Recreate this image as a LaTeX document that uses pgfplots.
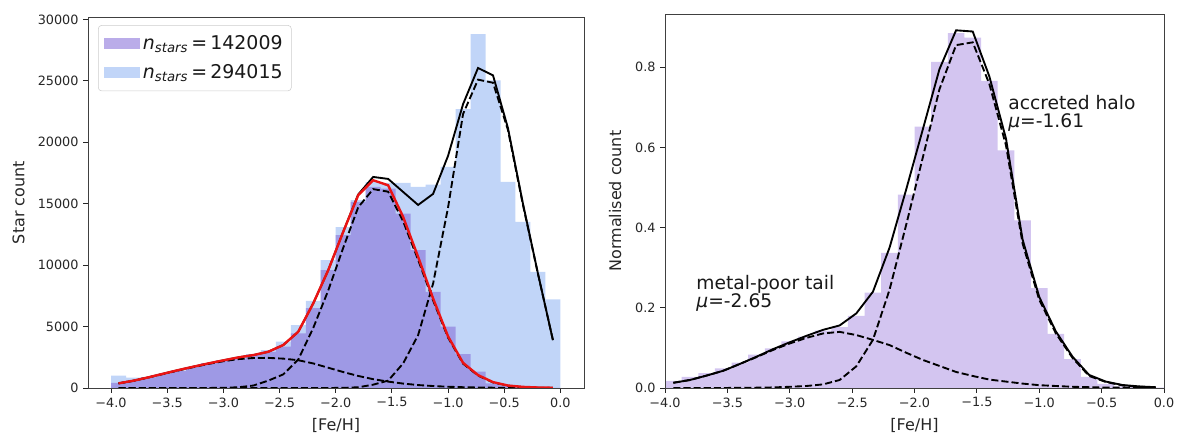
\documentclass[border=0pt]{standalone}
\usepackage{fontspec}
\setmainfont{DejaVu Sans}[ItalicFont={DejaVu Sans Oblique}]
\usepackage{pgfplots}
\usepackage{pgfplotstable}
\pgfplotsset{compat=1.18}

\definecolor{lbfill}{RGB}{193,213,248}
\definecolor{pfill}{RGB}{130,105,215}
\definecolor{rfill}{RGB}{211,197,240}
\definecolor{legedge}{RGB}{204,204,204}
\definecolor{fitred}{RGB}{235,20,20}

% histograms, left panel: bin left edge, full sample, subsample (last row closes the final bin)
\pgfplotstableread{
edge lb p
-4.0000 1000 420
-3.8667 850 600
-3.7333 880 860
-3.6000 1150 1130
-3.4667 1420 1400
-3.3333 1720 1690
-3.2000 2000 2000
-3.0667 2200 2250
-2.9333 2450 2400
-2.8000 2760 2700
-2.6667 3090 2950
-2.5333 3770 3360
-2.4000 5120 4450
-2.2667 7100 6500
-2.1333 10400 9590
-2.0000 13100 12440
-1.8667 15300 15150
-1.7333 16750 16370
-1.6000 16700 16230
-1.4667 16690 14200
-1.3333 16370 11220
-1.2000 16560 7830
-1.0667 18000 5000
-0.9333 22700 2750
-0.8000 28800 1330
-0.6667 25040 380
-0.5333 16770 150
-0.4000 13520 60
-0.2667 9460 20
-0.1333 7210 10
0.0000 7210 10
}\histleft

% fitted curves, left panel, at bin centres
\pgfplotstableread{
c red bsol dtail dmain drich
-3.9333 380 380 375 0 0
-3.8000 595 595 585 0 0
-3.6667 870 870 855 0 0
-3.5333 1165 1165 1145 0 0
-3.4000 1460 1460 1430 0 0
-3.2667 1735 1735 1700 0 0
-3.1333 2000 2000 1960 3 0
-3.0000 2250 2250 2180 15 0
-2.8667 2490 2490 2350 60 0
-2.7333 2680 2680 2440 200 0
-2.6000 2950 2950 2450 600 0
-2.4667 3500 3500 2390 1110 0
-2.3333 4580 4580 2260 2320 0
-2.2000 6890 6890 2000 4890 0
-2.0667 9590 9590 1650 7940 2
-1.9333 12710 12720 1300 11410 10
-1.8000 15690 15750 980 14710 60
-1.6667 16910 17180 720 16190 270
-1.5333 16500 17020 520 15980 600
-1.4000 13930 15960 360 13570 2000
-1.2667 10680 14900 240 10440 4300
-1.1333 7290 15800 160 7130 8500
-1.0000 4200 18900 100 4100 14700
-0.8667 2050 23100 65 1985 22300
-0.7333 1050 26050 40 1010 25100
-0.6000 480 25450 25 455 24850
-0.4667 200 21150 15 185 21000
-0.3333 90 15000 8 72 14900
-0.2000 40 9320 4 26 9300
-0.0667 20 3900 2 8 3900
}\fitleft

% normalised histogram, right panel
\pgfplotstableread{
edge v
-4.0000 0.018
-3.8667 0.028
-3.7333 0.037
-3.6000 0.049
-3.4667 0.063
-3.3333 0.083
-3.2000 0.099
-3.0667 0.116
-2.9333 0.128
-2.8000 0.143
-2.6667 0.152
-2.5333 0.180
-2.4000 0.238
-2.2667 0.337
-2.1333 0.4825
-2.0000 0.652
-1.8667 0.813
-1.7333 0.885
-1.6000 0.874
-1.4667 0.766
-1.3333 0.5925
-1.2000 0.418
-1.0667 0.249
-0.9333 0.135
-0.8000 0.072
-0.6667 0.028
-0.5333 0.010
-0.4000 0.004
-0.2667 0.002
-0.1333 0.001
0.0000 0.001
}\histright

% two-component fit, right panel
\pgfplotstableread{
c sol tail main
-3.9333 0.013 0.013 0.0000
-3.8000 0.020 0.020 0.0000
-3.6667 0.031 0.031 0.0000
-3.5333 0.043 0.043 0.0001
-3.4000 0.060 0.060 0.0003
-3.2667 0.078 0.077 0.0008
-3.1333 0.097 0.095 0.0015
-3.0000 0.114 0.111 0.003
-2.8667 0.130 0.125 0.005
-2.7333 0.145 0.136 0.009
-2.6000 0.156 0.140 0.020
-2.4667 0.186 0.132 0.054
-2.3333 0.240 0.120 0.120
-2.2000 0.350 0.107 0.245
-2.0667 0.495 0.088 0.407
-1.9333 0.645 0.070 0.575
-1.8000 0.795 0.055 0.745
-1.6667 0.892 0.040 0.855
-1.5333 0.889 0.030 0.862
-1.4000 0.777 0.021 0.758
-1.2667 0.622 0.016 0.605
-1.1333 0.370 0.011 0.360
-1.0000 0.227 0.007 0.220
-0.8667 0.141 0.005 0.136
-0.7333 0.078 0.003 0.075
-0.6000 0.0325 0.002 0.030
-0.4667 0.016 0.001 0.015
-0.3333 0.0075 0.001 0.0065
-0.2000 0.004 0.0005 0.003
-0.0667 0.002 0.0003 0.0015
}\fitright

\pgfplotsset{
  panel/.style={
    scale only axis, anchor=south west, axis on top,
    tick align=outside, xtick pos=bottom, ytick pos=left,
    major tick length=3.6pt,
    every tick/.style={black!85, line width=0.6pt},
    axis line style={black!75, line width=0.6pt},
    tick label style={font=\fontsize{9.6}{11}\selectfont, text=black!85},
    label style={font=\fontsize{12}{14}\selectfont, text=black!85},
    scaled ticks=false,
    xtick={-4,-3.5,-3,-2.5,-2,-1.5,-1,-0.5,0},
    xticklabels={−4.0,−3.5,−3.0,−2.5,−2.0,−1.5,−1.0,−0.5,0.0},
    xlabel={[Fe/H]},
  },
  dashcomp/.style={black, line width=1.4pt, dash pattern=on 5.3pt off 2.3pt, forget plot},
}
\tikzset{annot/.style={anchor=base west, inner sep=0pt, font=\fontsize{14}{16}\selectfont, text=black!90}}

\begin{document}
\begin{tikzpicture}
\useasboundingbox (0,0) rectangle (883.5pt,326.25pt);

% ---- left: star counts for both samples ----
\begin{axis}[panel,
  at={(66pt,35.25pt)}, width=372pt, height=278.25pt,
  xmin=-4.205, xmax=0.21, ymin=0, ymax=30200,
  ytick={0,5000,10000,15000,20000,25000,30000},
  yticklabels={0,5000,10000,15000,20000,25000,30000},
  ylabel={Star count},
  ylabel style={at={(axis description cs:-0.14,0.5)}, anchor=center},
  xlabel style={at={(axis description cs:0.5,-0.1)}, anchor=center},
  legend cell align=left,
  legend style={at={(axis description cs:0.0202,0.978)}, anchor=north west,
    draw=legedge, rounded corners=2.5pt, fill=white,
    font=\fontsize{14.2}{16}\selectfont, text=black!90,
    inner xsep=4.5pt, inner ysep=5.5pt, row sep=6pt,
    /tikz/every even column/.append style={column sep=10pt}},
]
\addplot[const plot mark left, fill=lbfill, draw=none, forget plot]
  table[x=edge, y=lb] {\histleft} \closedcycle;
\addplot[const plot mark left, fill=pfill, fill opacity=0.55, draw=none, forget plot]
  table[x=edge, y=p] {\histleft} \closedcycle;

\addplot[dashcomp] table[x=c, y=dtail] {\fitleft};
\addplot[dashcomp] table[x=c, y=dmain] {\fitleft};
\addplot[dashcomp] table[x=c, y=drich] {\fitleft};
\addplot[black, line width=1.4pt, forget plot] table[x=c, y=bsol] {\fitleft};
\addplot[fitred, line width=1.8pt, forget plot] table[x=c, y=red] {\fitleft};

\addlegendimage{legend image code/.code={\fill[pfill, fill opacity=0.55, sharp corners, draw=none] (0pt,-4.1pt) rectangle (27pt,4.1pt);}}
\addlegendentry{{\itshape n}\textsubscript{\itshape stars}\,=\,142009}
\addlegendimage{legend image code/.code={\fill[lbfill, sharp corners, draw=none] (0pt,-4.1pt) rectangle (27pt,4.1pt);}}
\addlegendentry{{\itshape n}\textsubscript{\itshape stars}\,=\,294015}
\end{axis}

% ---- right: normalised distribution with two-component fit ----
\begin{axis}[panel,
  at={(498.75pt,35.25pt)}, width=374.25pt, height=280.3pt,
  xmin=-4, xmax=0, ymin=0, ymax=0.932,
  ytick={0,0.2,0.4,0.6,0.8},
  yticklabels={0.0,0.2,0.4,0.6,0.8},
  ylabel={Normalised count},
  ylabel style={at={(axis description cs:-0.1,0.5)}, anchor=center},
  xlabel style={at={(axis description cs:0.5,-0.099)}, anchor=center},
]
\addplot[const plot mark left, fill=rfill, draw=none]
  table[x=edge, y=v] {\histright} \closedcycle;
\addplot[black, line width=1.4pt] table[x=c, y=sol] {\fitright};
\addplot[dashcomp] table[x=c, y=tail] {\fitright};
\addplot[dashcomp] table[x=c, y=main] {\fitright};

\node[annot] at (axis cs:-1.25,0.694) {accreted halo};
\node[annot] at (axis cs:-1.25,0.65) {{\itshape μ}=-1.61};
\node[annot] at (axis cs:-3.75,0.2445) {metal-poor tail};
\node[annot] at (axis cs:-3.75,0.2015) {{\itshape μ}=-2.65};
\end{axis}
\end{tikzpicture}
\end{document}
